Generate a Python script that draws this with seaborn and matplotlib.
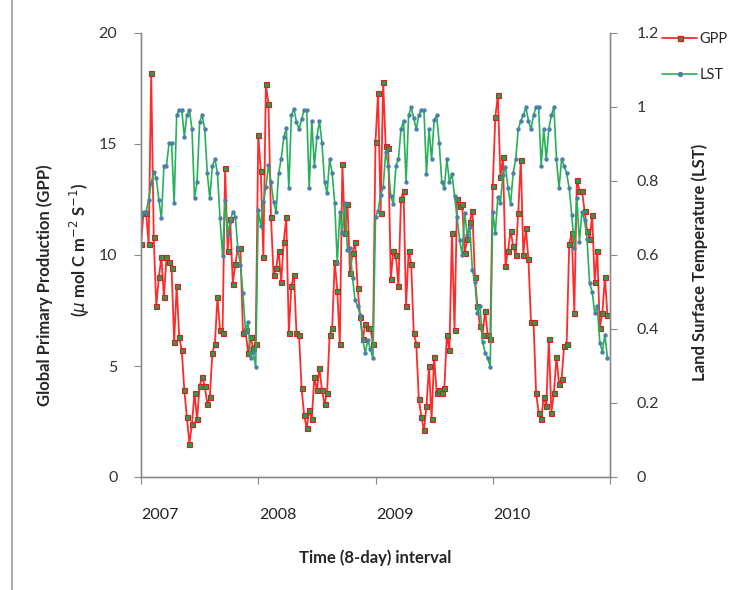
import numpy as np
import pandas as pd
import matplotlib
matplotlib.use("Agg")
import matplotlib.pyplot as plt
from matplotlib.lines import Line2D
import seaborn as sns

years = [2007, 2008, 2009, 2010]
tick_labels = ["2007", "2008", "2009", "2010"]

gpp_2007 = [10.5, 11.9, 11.9, 10.5, 18.2, 10.8, 7.7, 9.0, 9.9, 8.1,
            9.9, 9.7, 9.4, 6.1, 8.6, 6.3, 5.7, 3.9, 2.7, 1.5,
            2.4, 3.8, 2.6, 4.1, 4.5, 4.1, 3.3, 3.6, 5.6, 6.0,
            8.1, 6.6, 6.5, 13.9, 10.2, 11.6, 8.7, 9.6, 10.3, 10.3,
            6.5, 6.6, 5.6, 6.3, 5.8, 6.0]
gpp_2008 = [15.4, 13.8, 9.9, 17.7, 16.8, 11.7, 9.1, 9.4, 10.2, 8.8,
            10.6, 11.7, 6.5, 8.6, 9.1, 6.5, 6.4, 4.0, 2.8, 2.2,
            3.0, 2.6, 4.5, 3.9, 4.9, 3.9, 3.3, 3.8, 6.4, 6.7,
            9.7, 8.4, 6.0, 14.1, 11.0, 12.3, 9.2, 10.1, 10.6, 8.5,
            7.2, 6.2, 6.9, 6.7, 6.7, 6.0]
gpp_2009 = [15.1, 17.3, 11.9, 17.8, 14.9, 14.8, 8.9, 10.2, 10.0, 8.6,
            12.5, 12.9, 7.7, 10.2, 9.6, 6.5, 6.0, 3.5, 2.7, 2.1,
            3.2, 5.0, 2.6, 5.4, 3.8, 3.9, 3.8, 4.0, 6.4, 5.7,
            11.0, 6.6, 12.5, 12.2, 12.3, 10.1, 10.7, 11.5, 12.0, 9.0,
            7.7, 6.8, 6.4, 7.5, 6.4, 6.2]
gpp_2010 = [13.1, 16.2, 17.2, 13.5, 14.4, 9.5, 10.2, 11.1, 10.4, 10.0,
            11.9, 14.3, 10.0, 11.2, 9.8, 7.0, 7.0, 3.8, 2.9, 2.6,
            3.6, 3.2, 6.2, 2.9, 3.8, 5.4, 4.2, 4.4, 5.9, 6.0,
            10.5, 11.0, 7.4, 13.4, 12.9, 12.9, 12.0, 11.1, 10.7, 11.8,
            8.8, 10.2, 6.7, 7.4, 9.0, 7.3]

lst_2007 = [.704, .717, .717, .749, .794, .825, .807, .749, .699, .841,
            .841, .902, .902, .740, .978, .992, .992, .920, .978, .992,
            .940, .753, .798, .960, .978, .940, .821, .753, .841, .859,
            .821, .699, .597, .749, .654, .690, .717, .704, .618, .573,
            .496, .393, .420, .321, .339, .298]
lst_2008 = [.722, .678, .744, .783, .843, .798, .744, .717, .821, .859,
            .918, .942, .780, .978, .994, .960, .940, .967, .992, .992,
            .780, .963, .841, .918, .963, .902, .798, .767, .859, .821,
            .740, .578, .717, .659, .740, .614, .618, .537, .478, .462,
            .438, .370, .336, .370, .345, .321]
lst_2009 = [.702, .720, .762, .783, .879, .841, .759, .738, .841, .859,
            .940, .963, .798, .978, .999, .969, .940, .978, .992, .992,
            .819, .940, .859, .965, .978, .902, .798, .780, .859, .798,
            .819, .759, .702, .641, .600, .714, .654, .677, .559, .528,
            .442, .462, .366, .336, .321, .298]
lst_2010 = [.717, .659, .758, .741, .816, .839, .780, .738, .821, .859,
            .940, .963, .978, .999, .963, .940, .978, .999, .999, .841,
            .940, .859, .940, .978, .999, .859, .780, .859, .841, .821,
            .780, .708, .618, .753, .636, .717, .695, .642, .523, .501,
            .444, .462, .363, .339, .384, .321]

gpp = gpp_2007 + gpp_2008 + gpp_2009 + gpp_2010
lst = lst_2007 + lst_2008 + lst_2009 + lst_2010
t = [y + i / 46 for y in years for i in range(46)]
df = pd.DataFrame({"t": t, "GPP": gpp, "LST": lst})

sns.set_style("white")
plt.rcParams["font.family"] = ["Lato", "DejaVu Sans"]

fig = plt.figure(figsize=(7.33, 5.9), dpi=100)
ax = fig.add_axes([141 / 733, 1 - 477 / 590, (610 - 141) / 733, (477 - 33) / 590])
ax2 = ax.twinx()

red = "#ff2a2a"
green = "#27b05a"
sns.lineplot(data=df, x="t", y="GPP", ax=ax, color=red, lw=1.3,
             marker="s", markersize=3.6, markerfacecolor="#2e9a4a",
             markeredgecolor="#d42020", markeredgewidth=0.8)
sns.lineplot(data=df, x="t", y="LST", ax=ax2, color=green, lw=1.2,
             marker="o", markersize=2.8, markerfacecolor="#4a80a8",
             markeredgecolor="#4a80a8", markeredgewidth=0.3)

ax.set_xlim(2007, 2011)
ax.set_ylim(0, 20)
ax2.set_ylim(0, 1.2)
ax.set_yticks([0, 5, 10, 15, 20])
ax2.set_yticks([0, 0.2, 0.4, 0.6, 0.8, 1.0, 1.2])
ax2.set_yticklabels(["0", "0.2", "0.4", "0.6", "0.8", "1", "1.2"])

ax.set_xticks([2007, 2008, 2009, 2010, 2011])
ax.set_xticklabels([])
ax.set_xticks([y + 0.165 for y in years], minor=True)
ax.set_xticklabels(tick_labels, minor=True)
ax.tick_params(axis="x", which="minor", length=0, pad=22, labelsize=11.5, labelcolor="#222222")
ax.tick_params(axis="x", which="major", direction="out", length=5, color="#888888", bottom=True)
ax.tick_params(axis="y", direction="out", length=5, color="#888888", left=True,
               labelsize=11.5, labelcolor="#333333", pad=12)
ax2.tick_params(axis="y", direction="out", length=5, color="#888888", right=True,
                labelsize=11.5, labelcolor="#333333", pad=14)

for a in (ax, ax2):
    a.spines["top"].set_visible(False)
    for s in ("left", "right", "bottom"):
        a.spines[s].set_color("#8a8a8a")
        a.spines[s].set_linewidth(1.0)
    a.set_xlabel("")
    a.set_ylabel("")
    a.grid(False)

ax.set_xlabel("Time (8-day) interval", fontsize=12, fontweight="bold", labelpad=20)
fig.text(45 / 733, 1 - 285 / 590, "Global Primary Production (GPP)", rotation=90,
         ha="center", va="center", fontsize=12, fontweight="bold")
fig.text(80 / 733, 1 - 250 / 590, "($\\mu$ mol C m$^{-2}$ S$^{-1}$)", rotation=90,
         ha="center", va="center", fontsize=12, fontweight="bold")
fig.text(700 / 733, 1 - 262 / 590, "Land Surface Temperature (LST)", rotation=90,
         ha="center", va="center", fontsize=12, fontweight="bold")

handles = [Line2D([0], [0], color=red, lw=1.3, marker="s", markersize=3.6,
                  markerfacecolor="#2e9a4a", markeredgecolor="#d42020"),
           Line2D([0], [0], color=green, lw=1.2, marker="o", markersize=2.8,
                  markerfacecolor="#4a80a8", markeredgecolor="#4a80a8")]
fig.legend(handles, ["GPP", "LST"], loc="upper left", bbox_to_anchor=(662 / 733, 1 - 32 / 590),
           frameon=False, fontsize=10.5, handlelength=2.4, handletextpad=0.15, labelspacing=1.5,
           borderaxespad=0, borderpad=0)

fig.add_artist(Line2D([12 / 733, 12 / 733], [0, 1], transform=fig.transFigure,
                      color="#aaaaaa", lw=1.5))

fig.savefig("out.png", dpi=100)
